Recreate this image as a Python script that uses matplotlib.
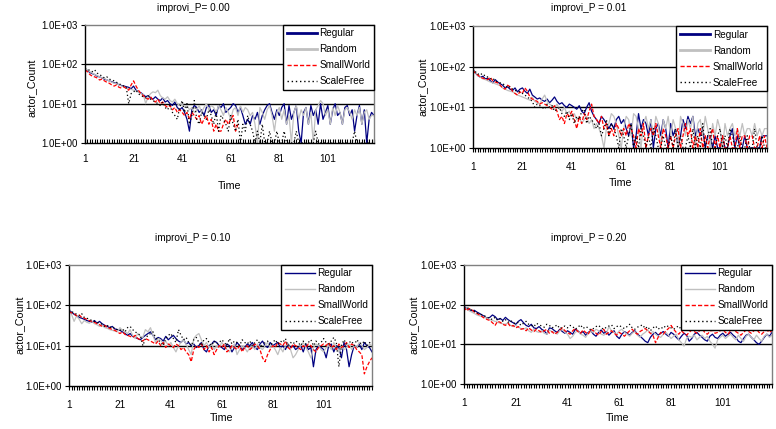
import numpy as np
import matplotlib
matplotlib.use("Agg")
from matplotlib import pyplot as plt
from matplotlib.lines import Line2D
from matplotlib.ticker import FixedLocator, NullFormatter

plt.rcParams['font.family'] = ['Liberation Sans', 'DejaVu Sans']

#time steps and series names
time = np.arange(1, 121)
series_names = ["Regular", "Random", "SmallWorld", "ScaleFree"]
panel_titles = ["improvi_P= 0.00", "improvi_P = 0.01", "improvi_P = 0.10", "improvi_P = 0.20"]
x_tick_labels = [1, 21, 41, 61, 81, 101]
y_tick_labels = ["1.0E+00", "1.0E+01", "1.0E+02", "1.0E+03"]

nan = np.nan

# improvi_P = 0.00
regular_p00 = [75, 70, 62, 58, 55, 50, 48, 45, 42, 40,
               38, 36, 34, 33, 30, 29, 28, 27, 26, 24,
               28, 22, 20, 19, 17, 15, 16, 14, 13, 15,
               13, 12, 14, 11, 12, 10, 9, 11, 8, 7,
               8, 6, 4, 2, 7, 9, 8, 6, 7, 5,
               8, 9, 6, 7, 5, 9, 8, 10, 6, 7,
               8, 10, 9, 6, 8, 5, 3, 4, 3, 5,
               4, 6, 3, 5, 7, 9, 10, 6, 4, 7,
               5, 8, 10, 3, 9, 4, 6, 9, 2, 1,
               6, 8, 3, 9, 5, 7, 3, 10, 4, 6,
               9, 3, 7, 10, 5, 6, 3, 8, 9, 5,
               7, 2, 5, 9, 3, 7, 1, 4, 6, 5]
random_p00 = [78, 72, 65, 60, 55, 52, 48, 45, 44, 40,
              38, 35, 33, 32, 30, 28, 27, 25, 24, 23,
              22, 21, 20, 18, 17, 10, 15, 18, 20, 19,
              22, 16, 14, 13, 15, 12, 11, 13, 10, 9,
              10, 8, 9, 7, 8, 6, 7, 9, 6, 8,
              10, 7, 9, 8, 6, 9, 7, 5, 8, 6,
              4, 7, 8, 5, 9, 6, 8, 7, 5, 6,
              3, 1, 8, 6, 4, 7, 9, 5, 2, 6,
              8, 4, 7, 3, 5, 1, 6, 9, 4, 7,
              5, 8, 3, 6, 1, 7, 9, 12, 10, 5,
              7, 3, 8, 5, 9, 6, 3, 7, 8, 6,
              4, 7, 5, 8, 3, 6, 7, 4, 5, 5]
smallworld_p00 = [72, 65, 55, 50, 48, 45, 40, 42, 38, 35,
                  33, 30, 28, 30, 26, 25, 27, 24, 22, 30,
                  38, 28, 22, 18, 16, 14, 13, 15, 12, 11,
                  13, 10, 11, 9, 8, 9, 7, 8, 6, 7,
                  6, 5, 6, 4, 6, 5, 4, 5, 3, 4,
                  5, 3, 4, 2, 3, 2, 2, 3, 4, 3,
                  4, 5, 2, 3, nan, nan, nan, nan, nan, nan,
                  nan, nan, nan, nan, nan, nan, nan, nan, nan, nan,
                  nan, nan, nan, nan, nan, nan, nan, nan, nan, nan,
                  nan, nan, nan, nan, nan, nan, nan, nan, nan, nan,
                  nan, nan, nan, nan, nan, nan, nan, nan, nan, nan,
                  nan, nan, nan, nan, nan, nan, nan, nan, nan, nan]
scalefree_p00 = [80, 75, 70, 65, 72, 60, 55, 50, 45, 48,
                 42, 40, 38, 35, 32, 30, 28, 26, 10, 18,
                 20, 22, 18, 16, 15, 14, 16, 13, 12, 11,
                 10, 9, 11, 8, 7, 9, 6, 5, 4, 8,
                 12, 6, 10, 3, 5, 12, 4, 3, 6, 5,
                 4, 7, 5, 3, 6, 2, 5, 4, 3, 2,
                 5, 3, 2, 4, 1, 3, 2, 5, 3, 2,
                 1, 2, 1, 3, 1, 1, 2, 1, 1, 2,
                 1, 1, 2, 1, 1, 1, 1, 2, 1, 1,
                 1, 1, 1, 1, 1, 2, 1, 1, 1, 1,
                 1, 1, 1, 1, 1, 1, 1, 1, 1, 1,
                 1, 2, 1, 1, 1, 1, 1, 1, 1, 1]

# improvi_P = 0.01
regular_p01 = [85, 70, 60, 55, 58, 50, 52, 45, 40, 48,
               42, 38, 35, 30, 32, 28, 26, 30, 24, 28,
               30, 25, 22, 28, 20, 18, 16, 17, 15, 14,
               16, 13, 15, 18, 14, 12, 13, 11, 10, 12,
               11, 10, 9, 11, 8, 7, 10, 13, 8, 6,
               5, 4, 6, 5, 4, 3, 4, 3, 5, 6,
               4, 5, 3, 2, 4, 1, 2, 7, 3, 5,
               4, 2, 5, 1, 3, 4, 2, 5, 3, 1,
               4, 2, 3, 1, 2, 5, 3, 6, 4, 6,
               2, 3, 2, 3, 1, 2, 2, 1, 2, 1,
               1, 2, 1, 1, 2, 3, 1, 2, 1, 1,
               2, 1, 1, 1, 1, 1, 1, 2, 2, 2]
random_p01 = [80, 72, 60, 55, 50, 48, 45, 42, 40, 38,
              36, 34, 30, 28, 26, 25, 24, 22, 20, 19,
              18, 17, 16, 15, 18, 14, 13, 12, 16, 20,
              14, 12, 11, 10, 12, 9, 8, 10, 7, 8,
              6, 7, 5, 6, 4, 5, 6, 4, 5, 3,
              4, 3, 2, 1, 3, 4, 7, 6, 4, 2,
              1, 3, 6, 5, 2, 7, 6, 3, 1, 4,
              6, 3, 5, 2, 6, 4, 1, 5, 3, 6,
              2, 5, 3, 1, 6, 4, 2, 5, 3, 6,
              1, 4, 5, 2, 6, 3, 1, 4, 2, 5,
              3, 1, 4, 2, 3, 4, 2, 3, 2, 4,
              2, 3, 3, 2, 4, 2, 3, 2, 3, 3]
smallworld_p01 = [82, 68, 62, 55, 52, 50, 48, 55, 45, 42,
                  40, 35, 30, 28, 35, 32, 25, 22, 20, 24,
                  22, 30, 25, 18, 16, 15, 14, 12, 13, 12,
                  11, 10, 9, 11, 8, 5, 6, 4, 7, 6,
                  8, 5, 3, 6, 4, 7, 5, 8, 12, 6,
                  5, 4, 6, 3, 4, 2, 3, 2, 4, 3,
                  2, 3, 2, 4, 3, 2, 1, 3, 2, 4,
                  1, 2, 3, 2, 4, 2, 1, 3, 2, 1,
                  2, 1, 2, 3, 1, 2, 4, 2, 3, 1,
                  2, 1, 3, 1, 2, 1, 2, 3, 1, 2,
                  1, 2, 1, 1, 2, 1, 1, 3, 1, 2,
                  2, 1, 2, 2, 1, 1, 2, 1, 2, 1]
scalefree_p01 = [90, 75, 65, 70, 60, 62, 55, 50, 52, 45,
                 42, 40, 38, 35, 30, 32, 28, 26, 25, 24,
                 22, 20, 18, 16, 14, 10, 12, 11, 10, 9,
                 12, 10, 11, 8, 9, 10, 7, 6, 8, 5,
                 7, 4, 6, 5, 8, 9, 4, 6, 5, 4,
                 3, 4, 2, 3, 5, 2, 4, 3, 2, 1,
                 3, 2, 1, 2, 4, 1, 2, 1, 3, 2,
                 1, 2, 1, 3, 2, 1, 1, 2, 1, 1,
                 2, 1, 3, 1, 2, 1, 1, 2, 1, 3,
                 1, 2, 1, 4, 1, 2, 3, 1, 1, 2,
                 3, 1, 2, 1, 3, 2, 1, 1, 2, 1,
                 1, 2, 1, 1, 3, 1, 1, 2, 1, 1]

# improvi_P = 0.10
regular_p10 = [75, 68, 60, 55, 50, 48, 45, 42, 40, 38,
               42, 36, 40, 35, 32, 30, 28, 30, 26, 25,
               24, 22, 20, 18, 20, 17, 16, 15, 14, 16,
               18, 20, 22, 18, 14, 16, 15, 13, 17, 14,
               16, 18, 15, 13, 12, 14, 11, 12, 10, 11,
               9, 10, 12, 8, 7, 10, 11, 13, 12, 10,
               9, 8, 11, 10, 7, 9, 12, 10, 8, 9,
               11, 10, 12, 9, 8, 11, 13, 10, 9, 12,
               10, 11, 12, 9, 10, 8, 11, 9, 10, 8,
               9, 10, 7, 11, 8, 9, 3, 8, 10, 9,
               8, 5, 10, 11, 7, 10, 9, 5, 12, 8,
               3, 6, 10, 9, 11, 8, 12, 10, 9, 7]
random_p10 = [72, 60, 40, 55, 45, 35, 42, 38, 36, 40,
              35, 33, 30, 32, 28, 27, 25, 24, 23, 22,
              28, 24, 22, 20, 25, 18, 15, 20, 17, 16,
              25, 22, 28, 18, 12, 15, 14, 11, 13, 10,
              12, 9, 7, 10, 12, 14, 11, 8, 6, 15,
              18, 20, 14, 10, 12, 9, 11, 8, 10, 9,
              12, 10, 8, 7, 9, 11, 6, 8, 10, 9,
              7, 9, 10, 8, 11, 9, 8, 10, 12, 9,
              10, 8, 6, 9, 7, 10, 11, 8, 5, 6,
              8, 10, 12, 9, 7, 5, 9, 11, 10, 8,
              7, 9, 10, 8, 12, 9, 7, 10, 8, 9,
              11, 8, 10, 9, 12, 10, 8, 9, 11, 10]
smallworld_p10 = [70, 65, 62, 55, 58, 50, 48, 45, 42, 40,
                  38, 35, 33, 30, 32, 28, 27, 25, 24, 22,
                  20, 22, 19, 18, 17, 16, 18, 15, 14, 13,
                  15, 14, 13, 12, 11, 13, 10, 12, 9, 11,
                  10, 9, 11, 10, 8, 9, 7, 6, 4, 8,
                  10, 9, 11, 8, 10, 7, 9, 6, 8, 10,
                  9, 11, 7, 8, 10, 9, 8, 10, 7, 9,
                  10, 8, 9, 11, 10, 8, 5, 4, 6, 8,
                  10, 9, 12, 11, 10, 13, 9, 8, 11, 10,
                  9, 8, 10, 9, 11, 10, 8, 7, 9, 10,
                  11, 10, 12, 9, 10, 8, 11, 9, 10, 12,
                  9, 11, 10, 8, 7, 6, 2, 3, 4, 5]
scalefree_p10 = [78, 70, 65, 60, 55, 62, 50, 48, 45, 42,
                 40, 38, 36, 34, 30, 32, 28, 30, 26, 25,
                 24, 26, 22, 28, 30, 25, 22, 20, 18, 10,
                 15, 18, 20, 22, 16, 14, 12, 10, 15, 18,
                 20, 15, 12, 25, 18, 14, 16, 12, 10, 14,
                 16, 12, 10, 14, 15, 12, 10, 13, 11, 12,
                 14, 12, 10, 15, 11, 13, 12, 10, 14, 12,
                 11, 13, 10, 12, 14, 11, 9, 12, 13, 10,
                 12, 14, 11, 13, 12, 15, 10, 12, 11, 13,
                 12, 10, 13, 11, 12, 14, 10, 13, 11, 12,
                 15, 12, 11, 13, 16, 12, 3, 10, 14, 11,
                 12, 13, 10, 14, 12, 11, 13, 10, 12, 11]

# improvi_P = 0.20
regular_p20 = [90, 80, 75, 70, 72, 65, 60, 55, 50, 45,
               48, 55, 50, 42, 45, 40, 48, 42, 38, 35,
               32, 38, 42, 35, 30, 28, 32, 26, 25, 28,
               24, 22, 18, 26, 25, 22, 20, 24, 21, 19,
               22, 20, 18, 24, 22, 19, 21, 17, 20, 22,
               18, 16, 20, 23, 19, 21, 17, 20, 22, 16,
               14, 18, 21, 19, 17, 20, 22, 18, 16, 14,
               12, 11, 15, 18, 20, 17, 19, 21, 18, 16,
               20, 18, 15, 13, 16, 19, 17, 12, 14, 18,
               20, 17, 15, 13, 12, 16, 18, 15, 14, 17,
               19, 16, 18, 20, 17, 15, 12, 11, 14, 17,
               18, 15, 13, 11, 10, 12, 15, 18, 16, 20]
random_p20 = [85, 78, 70, 65, 60, 55, 52, 50, 48, 45,
              42, 40, 38, 36, 34, 33, 32, 35, 30, 28,
              30, 27, 25, 24, 26, 22, 20, 24, 21, 20,
              22, 19, 18, 23, 21, 20, 18, 22, 24, 20,
              18, 14, 16, 20, 22, 18, 17, 15, 19, 21,
              20, 24, 22, 18, 17, 19, 28, 22, 20, 18,
              22, 24, 20, 18, 16, 19, 21, 17, 15, 18,
              20, 23, 19, 21, 18, 16, 15, 18, 20, 17,
              14, 16, 18, 13, 11, 9, 14, 16, 15, 17,
              13, 15, 17, 14, 16, 12, 10, 8, 13, 15,
              17, 14, 16, 18, 15, 13, 17, 14, 12, 16,
              18, 15, 13, 17, 14, 12, 16, 18, 15, 17]
smallworld_p20 = [88, 70, 80, 75, 65, 60, 55, 50, 45, 42,
                  40, 35, 30, 38, 36, 32, 30, 34, 28, 30,
                  26, 28, 24, 25, 22, 26, 23, 21, 24, 22,
                  20, 22, 24, 19, 21, 18, 20, 23, 26, 22,
                  20, 18, 22, 25, 21, 19, 23, 20, 18, 24,
                  22, 19, 17, 21, 24, 18, 20, 22, 19, 17,
                  20, 18, 16, 19, 22, 24, 20, 18, 21, 23,
                  25, 22, 19, 17, 11, 15, 20, 18, 22, 25,
                  30, 24, 20, 18, 22, 19, 17, 20, 23, 21,
                  19, 22, 25, 20, 18, 21, 23, 19, 20, 22,
                  24, 20, 18, 22, 25, 21, 19, 17, 20, 23,
                  21, 19, 22, 24, 20, 18, 21, 23, 20, 22]
scalefree_p20 = [92, 85, 80, 72, 68, 62, 58, 55, 52, 48,
                 45, 42, 48, 40, 44, 38, 42, 36, 40, 35,
                 33, 36, 30, 34, 38, 32, 30, 28, 34, 31,
                 29, 27, 32, 30, 26, 28, 31, 25, 27, 29,
                 26, 30, 28, 24, 27, 31, 25, 28, 26, 23,
                 25, 28, 30, 26, 24, 27, 29, 31, 25, 28,
                 30, 27, 25, 28, 32, 26, 24, 27, 29, 31,
                 25, 28, 22, 26, 29, 24, 27, 25, 30, 28,
                 26, 24, 27, 29, 23, 25, 28, 26, 24, 27,
                 25, 28, 26, 24, 29, 27, 25, 23, 26, 28,
                 24, 27, 25, 28, 26, 23, 27, 25, 28, 26,
                 24, 26, 28, 25, 27, 24, 26, 28, 25, 27]

panel_data = [
    [regular_p00, random_p00, smallworld_p00, scalefree_p00],
    [regular_p01, random_p01, smallworld_p01, scalefree_p01],
    [regular_p10, random_p10, smallworld_p10, scalefree_p10],
    [regular_p20, random_p20, smallworld_p20, scalefree_p20],
]

colors = ["#000080", "#c0c0c0", "#ff0000", "#000000"]
styles = ["-", "-", (0, (3, 1.5)), (0, (1, 2))]

W, H = 776, 429

def px(x, y):
    return x / W, 1 - y / H

# axes boxes in pixels: left, top, right, bottom
boxes = [(85, 25, 374, 143), (473, 26, 767, 148), (69, 265, 372, 386), (464, 265, 772, 384)]
title_pos = [(193, 8), (589, 8), (193, 238), (589, 238)]
xlab_pos = [(230, 186), (621, 183), (222, 418), (618, 418)]
ylab_pos = [(32, 88), (423, 87), (20, 325), (414, 325)]
thick_legend = [True, True, False, False]
tick_dir = ["in", "out", "out", "out"]
tick_pad = [8, 7, 7, 7]

fig = plt.figure(figsize=(W / 100, H / 100), dpi=100)
fs = 7.2

for i in range(4):
    l, t, r, b = boxes[i]
    ax = fig.add_axes([l / W, 1 - b / H, (r - l) / W, (b - t) / H])
    for vals, c, ls in zip(panel_data[i], colors, styles):
        v = np.clip(np.array(vals, dtype=float), 1.0, None)
        ax.plot(time, v, color=c, linestyle=ls, linewidth=0.9)
    ax.set_yscale("log")
    ax.set_ylim(1, 1000)
    ax.set_xlim(1, 120)
    ax.set_yticks([1, 10, 100, 1000])
    ax.set_yticklabels(y_tick_labels, fontsize=7)
    ax.yaxis.set_minor_locator(FixedLocator([]))
    ax.yaxis.set_minor_formatter(NullFormatter())
    ax.set_xticks(x_tick_labels)
    ax.set_xticklabels([str(v) for v in x_tick_labels], fontsize=fs)
    ax.xaxis.set_minor_locator(FixedLocator(time))
    ax.tick_params(axis="x", which="both", direction=tick_dir[i], length=3, width=0.8,
                   pad=tick_pad[i])
    ax.tick_params(axis="y", which="major", direction="out", length=3, width=0.8, pad=2)
    for yv in [10, 100]:
        ax.axhline(yv, color="black", linewidth=1.0, zorder=0.5)
    ax.spines["top"].set_color("#808080")
    ax.spines["right"].set_color("#808080")
    ax.spines["left"].set_color("black")
    ax.spines["bottom"].set_color("black")
    for s in ax.spines.values():
        s.set_linewidth(1.0)

    handles = []
    for j in range(4):
        lw = 2.0 if (thick_legend[i] and j < 2) else 1.0
        handles.append(Line2D([0], [0], color=colors[j], linestyle=styles[j], linewidth=lw))
    leg = ax.legend(handles, series_names, loc="upper right", bbox_to_anchor=(1.0, 1.0),
                    borderaxespad=0.0, fontsize=fs, frameon=True, fancybox=False,
                    edgecolor="black", framealpha=1.0, handlelength=3.0, handletextpad=0.3,
                    labelspacing=0.6, borderpad=0.35)
    leg.get_frame().set_linewidth(1.0)

    fig.text(*px(*title_pos[i]), panel_titles[i], ha="center", va="center", fontsize=fs)
    fig.text(*px(*xlab_pos[i]), "Time", ha="center", va="center", fontsize=fs + 0.5)
    fig.text(*px(*ylab_pos[i]), "actor_Count", ha="center", va="center", fontsize=fs + 0.5, rotation=90)

fig.savefig("out.png", dpi=100)
